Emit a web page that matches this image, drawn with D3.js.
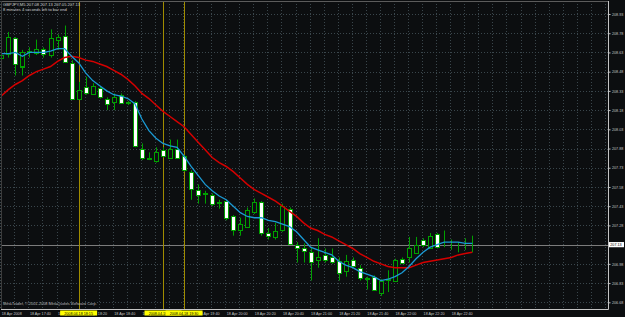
<!DOCTYPE html>
<html>
<head>
<meta charset="utf-8">
<script src="https://cdn.jsdelivr.net/npm/d3@7"></script>
<style>
  html, body { margin: 0; padding: 0; background: #0c0e10; }
  svg { display: block; }
  text { font-family: "Liberation Sans", Arial, sans-serif; }
</style>
</head>
<body>
<svg id="chart"></svg>
<script>
// -------------------------------------------------------------
const width  = 625;
const height = 317;
const plot   = { left: 1, top: 1, right: 608, bottom: 309 };

// 5 minute bars, 18 Apr 2008
const times = [
  "17:20","17:25","17:30","17:35","17:40","17:45","17:50","17:55",
  "18:00","18:05","18:10","18:15","18:20","18:25","18:30","18:35","18:40","18:45","18:50","18:55",
  "19:00","19:05","19:10","19:15","19:20","19:25","19:30","19:35","19:40","19:45","19:50","19:55",
  "20:00","20:05","20:10","20:15","20:20","20:25","20:30","20:35","20:40","20:45","20:50","20:55",
  "21:00","21:05","21:10","21:15","21:20","21:25","21:30","21:35","21:40","21:45","21:50","21:55",
  "22:00","22:05","22:10","22:15","22:20","22:25","22:30","22:35","22:40","22:45","22:50","22:55"
];

const open = [
  208.59,208.62,208.74,208.52,208.64,208.63,208.66,208.61,208.73,208.76,
  208.55,208.27,208.36,208.31,208.35,208.27,208.24,208.30,208.24,208.24,
  207.88,207.81,207.78,207.87,207.81,207.88,207.82,207.70,207.56,207.53,
  207.52,207.45,207.47,207.35,207.24,207.27,207.38,207.46,207.22,207.19,
  207.24,207.41,207.13,207.10,207.07,207.01,207.05,207.03,207.00,206.92,
  207.01,206.95,206.87,206.88,206.76,206.86,206.85,207.02,207.03,207.07,
  207.17,207.11,207.21,207.13,207.10,207.13,207.13,207.11
];
const high = [
  208.63,208.79,208.75,208.65,208.67,208.73,208.67,208.81,208.77,208.84,
  208.57,208.40,208.44,208.39,208.36,208.28,208.31,208.31,208.25,208.25,
  207.92,207.85,207.89,207.89,207.95,207.95,207.83,207.71,207.60,207.55,
  207.53,207.48,207.48,207.36,207.34,207.42,207.49,207.47,207.26,207.30,
  207.45,207.42,207.15,207.14,207.11,207.18,207.10,207.10,207.03,207.05,
  207.03,206.97,206.88,206.89,206.86,206.93,207.02,207.03,207.19,207.19,
  207.18,207.22,207.22,207.24,207.17,207.15,207.18,207.20
];
const low = [
  208.48,208.59,208.45,208.45,208.59,208.61,208.59,208.59,208.65,208.55,
  208.26,208.26,208.30,208.30,208.27,208.18,208.18,208.23,208.22,207.89,
  207.79,207.79,207.77,207.81,207.80,207.80,207.70,207.48,207.45,207.45,
  207.43,207.41,207.32,207.20,207.20,207.26,207.37,207.20,207.17,207.17,
  207.23,207.13,206.99,206.99,206.85,206.95,206.99,206.98,206.85,206.88,
  206.95,206.85,206.78,206.77,206.73,206.76,206.84,206.98,206.99,207.06,
  207.11,207.10,207.10,207.11,207.09,207.07,207.09,207.07
];
const close = [
  208.61,208.75,208.54,208.63,208.64,208.66,208.62,208.74,208.75,208.56,
  208.27,208.34,208.31,208.37,208.28,208.23,208.28,208.24,208.23,207.90,
  207.81,207.80,207.85,207.82,207.88,207.81,207.71,207.57,207.52,207.53,
  207.45,207.46,207.34,207.24,207.29,207.40,207.46,207.22,207.20,207.24,
  207.43,207.14,207.11,207.08,206.99,207.03,207.01,206.99,206.91,207.00,
  206.96,206.87,206.87,206.78,206.85,206.86,207.01,206.99,207.10,207.13,
  207.13,207.20,207.11,207.14,207.12,207.11,207.13,207.13
];

// moving averages as shown on the chart
const maFast = [
  208.62,208.62,208.63,208.60,208.63,208.63,208.63,208.64,208.66,208.66,
  208.60,208.55,208.47,208.41,208.37,208.33,208.30,208.29,208.27,208.23,
  208.11,208.02,207.96,207.92,207.90,207.89,207.82,207.74,207.67,207.60,
  207.55,207.51,207.48,207.43,207.38,207.35,207.34,207.34,207.32,207.31,
  207.29,207.27,207.23,207.17,207.11,207.09,207.07,207.05,207.00,206.97,
  206.95,206.92,206.90,206.88,206.85,206.86,206.88,206.91,206.96,207.02,
  207.07,207.11,207.13,207.15,207.15,207.15,207.14,207.14
];
const maSlow = [
  208.29,208.34,208.38,208.41,208.45,208.48,208.50,208.52,208.56,208.59,
  208.60,208.59,208.57,208.56,208.54,208.52,208.49,208.46,208.42,208.37,
  208.31,208.27,208.22,208.17,208.13,208.09,208.05,207.99,207.93,207.87,
  207.81,207.77,207.74,207.70,207.65,207.60,207.56,207.53,207.50,207.47,
  207.43,207.39,207.35,207.30,207.26,207.24,207.21,207.19,207.16,207.13,
  207.10,207.06,207.03,207.00,206.98,206.96,206.95,206.95,206.95,206.97,
  206.99,207.00,207.01,207.02,207.03,207.05,207.06,207.07
];

const priceTicks = [208.93,208.78,208.63,208.48,208.33,208.18,208.03,207.88,
                    207.73,207.58,207.43,207.28,207.13,206.98,206.83,206.68];
const timeTicks  = ["17:40","18:00","18:20","18:40","19:00","19:20","19:40","20:00",
                    "20:20","20:40","21:00","21:20","21:40","22:00","22:20","22:40"];
const dayLabel   = "18 Apr";
const firstLabel = "18 Apr 2008";
const vLines     = ["18:15","19:15","19:30"];
const vLineDate  = "2008.04.18";
const bid        = 207.13;
const titleLine1 = "GBPJPY,M5  207.08 207.13 207.05 207.13";
const titleLine2 = "8 minutes 4 seconds left to bar end";
const copyright  = "MetaTrader, \u00a9 2001-2008 MetaQuotes Software Corp.";

// -------------------------------------------------------------
const svg = d3.select('#chart').attr('width', width).attr('height', height);
svg.append('rect').attr('width', width).attr('height', height).attr('fill', '#0c0e10');

const x = d3.scaleLinear().domain([0, times.length - 1]).range([1.3, 472.3]);
const y = d3.scaleLinear().domain([206.68, 208.93]).range([302.3, 14]);
const px = v => Math.round(v) + 0.5;

const green = '#00a000';
const bg    = '#0c0e10';
const fmt   = d3.format('.2f');

// grid -------------------------------------------------------
const grid = svg.append('g');
grid.selectAll('.hg').data(priceTicks).enter().append('line')
  .attr('x1', plot.left).attr('x2', plot.right)
  .attr('y1', d => px(y(d))).attr('y2', d => px(y(d)))
  .attr('stroke', '#3a464c').attr('stroke-dasharray', '1,2');

const gridIdx = d3.range(0, 90, 2).filter(i => x(i) < plot.right - 2);
grid.selectAll('.vg').data(gridIdx).enter().append('line')
  .attr('x1', i => px(x(i)) - 1).attr('x2', i => px(x(i)) - 1)
  .attr('y1', plot.top).attr('y2', plot.bottom)
  .attr('stroke', '#3a464c').attr('stroke-dasharray', '1,2');

// bid line
svg.append('line')
  .attr('x1', plot.left).attr('x2', plot.right)
  .attr('y1', px(y(bid))).attr('y2', px(y(bid)))
  .attr('stroke', '#7c7c7c');

// vertical marker lines
svg.selectAll('.vl').data(vLines).enter().append('line')
  .attr('x1', d => px(x(times.indexOf(d)))).attr('x2', d => px(x(times.indexOf(d))))
  .attr('y1', plot.top).attr('y2', plot.bottom)
  .attr('stroke', '#a08c00');

// candles ----------------------------------------------------
const bars = svg.append('g').selectAll('g').data(times).enter().append('g');

bars.append('line')
  .attr('x1', (d, i) => px(x(i))).attr('x2', (d, i) => px(x(i)))
  .attr('y1', (d, i) => y(high[i])).attr('y2', (d, i) => y(low[i]))
  .attr('stroke', green);

bars.filter((d, i) => open[i] !== close[i]).append('rect')
  .attr('x', (d, i) => px(x(i)) - 2)
  .attr('width', 4)
  .attr('y', (d, i) => Math.round(y(Math.max(open[i], close[i]))) + 0.5)
  .attr('height', (d, i) => Math.max(1, Math.round(Math.abs(y(open[i]) - y(close[i])))))
  .attr('fill', (d, i) => close[i] < open[i] ? '#ffffff' : bg)
  .attr('stroke', green);

bars.filter((d, i) => open[i] === close[i]).append('line')
  .attr('x1', (d, i) => px(x(i)) - 2.5).attr('x2', (d, i) => px(x(i)) + 2.5)
  .attr('y1', (d, i) => px(y(open[i]))).attr('y2', (d, i) => px(y(open[i])))
  .attr('stroke', green);

// moving averages --------------------------------------------
const maLine = d3.line().x((d, i) => x(i)).y(d => y(d));
svg.append('path').datum(maSlow).attr('d', maLine)
  .attr('fill', 'none').attr('stroke', '#d40000').attr('stroke-width', 1.5);
svg.append('path').datum(maFast).attr('d', maLine)
  .attr('fill', 'none').attr('stroke', '#1b9ad4').attr('stroke-width', 1.3);

// frame ------------------------------------------------------
svg.append('line').attr('x1', plot.left).attr('x2', plot.right)
  .attr('y1', 1.5).attr('y2', 1.5).attr('stroke', '#5c5c5c');
svg.append('line').attr('x1', 1.5).attr('x2', 1.5)
  .attr('y1', plot.top).attr('y2', plot.bottom).attr('stroke', '#3c3c3c');
svg.append('line').attr('x1', plot.right + 0.5).attr('x2', plot.right + 0.5)
  .attr('y1', plot.top).attr('y2', plot.bottom + 0.5).attr('stroke', '#c4c4c4');
svg.append('line').attr('x1', plot.left).attr('x2', plot.right + 0.5)
  .attr('y1', plot.bottom + 0.5).attr('y2', plot.bottom + 0.5).attr('stroke', '#c4c4c4');

// price axis (the label under the bid tag is hidden, as in the terminal)
const yAxis = svg.append('g')
  .attr('transform', `translate(${plot.right + 0.5},0)`)
  .call(d3.axisRight(y).tickValues(priceTicks.filter(v => v !== bid)).tickFormat(fmt)
    .tickSize(2).tickPadding(1.5));
yAxis.select('.domain').remove();
yAxis.selectAll('line').attr('stroke', '#c4c4c4');
yAxis.selectAll('text').attr('fill', '#c4c4c4').style('font-size', '3.7px')
  .style('font-family', '"Liberation Sans", Arial, sans-serif');

// bid tag
svg.append('rect').attr('x', 609).attr('y', y(bid) - 2.6)
  .attr('width', 15).attr('height', 5.2).attr('fill', '#ffffff');
svg.append('text').attr('x', 610.3).attr('y', y(bid) + 1.3)
  .attr('fill', '#000000').style('font-size', '3.7px')
  .text(fmt(bid));

// time axis --------------------------------------------------
const boxes = vLines.map(t => [x(times.indexOf(t)) - 18.5, x(times.indexOf(t)) + 18.5]);
const covered = i => boxes.some(b => x(i) >= b[0] && x(i) + 20 <= b[1] + 2);
const tData = [{ i: 0, label: firstLabel }]
  .concat(timeTicks.map(t => ({ i: times.indexOf(t), label: dayLabel + ' ' + t })))
  .filter(d => !covered(d.i));
svg.append('g').selectAll('text').data(tData).enter().append('text')
  .attr('x', d => x(d.i) + 0.5).attr('y', 314.6)
  .attr('fill', '#c4c4c4').style('font-size', '3.7px')
  .text(d => d.label);

// marker labels
const vl = svg.selectAll('.vlab').data(vLines).enter().append('g');
vl.append('rect')
  .attr('x', d => x(times.indexOf(d)) - 18.5).attr('y', 310.5)
  .attr('width', 37).attr('height', 5).attr('fill', '#ffff00');
vl.append('text')
  .attr('x', d => x(times.indexOf(d))).attr('y', 314.6)
  .attr('text-anchor', 'middle').attr('fill', '#000000').style('font-size', '3.7px')
  .text(d => vLineDate + ' ' + d);

// titles -----------------------------------------------------
svg.append('text').attr('x', 3).attr('y', 5.6)
  .attr('fill', '#d0d0d0').style('font-size', '4.1px').text(titleLine1);
svg.append('text').attr('x', 3).attr('y', 10.6)
  .attr('fill', '#d0d0d0').style('font-size', '4.1px').text(titleLine2);
svg.append('text').attr('x', 3).attr('y', 305)
  .attr('fill', '#b8b8b8').style('font-size', '3.9px').text(copyright);
</script>
</body>
</html>
